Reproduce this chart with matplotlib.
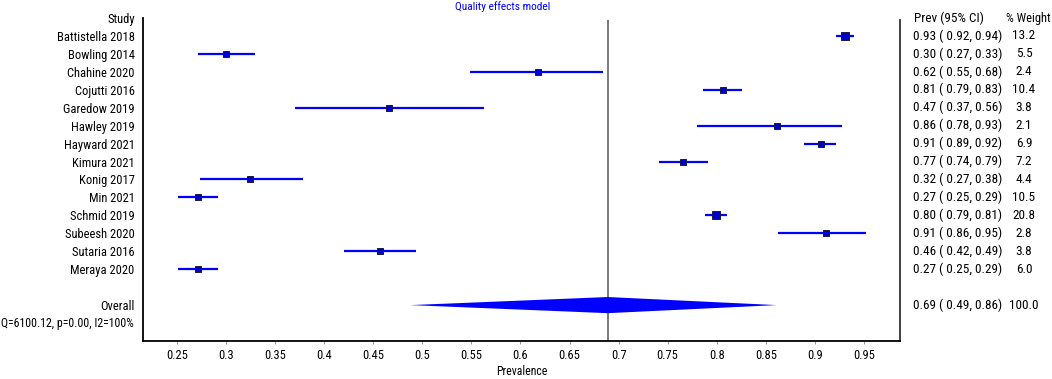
import matplotlib
matplotlib.use("Agg")
import matplotlib.pyplot as plt
import matplotlib.transforms as mtransforms

plt.rcParams['font.family'] = ['Roboto Condensed', 'Archivo Narrow', 'Liberation Sans', 'DejaVu Sans']

# study data (prevalence, 95% CI, weight)
studies = ["Battistella 2018", "Bowling 2014", "Chahine 2020", "Cojutti 2016",
           "Garedow 2019", "Hawley 2019", "Hayward 2021", "Kimura 2021",
           "Konig 2017", "Min 2021", "Schmid 2019", "Subeesh 2020",
           "Sutaria 2016", "Meraya 2020"]
prev = [0.931, 0.300, 0.618, 0.806, 0.466, 0.861, 0.906, 0.766,
        0.324, 0.271, 0.799, 0.911, 0.457, 0.271]
ci_lo = [0.922, 0.271, 0.549, 0.786, 0.370, 0.780, 0.889, 0.741,
         0.274, 0.2515, 0.788, 0.862, 0.420, 0.2515]
ci_hi = [0.940, 0.330, 0.684, 0.826, 0.563, 0.928, 0.922, 0.791,
         0.378, 0.292, 0.810, 0.952, 0.494, 0.292]
weight = [13.2, 5.5, 2.4, 10.4, 3.8, 2.1, 6.9, 7.2, 4.4, 10.5, 20.8, 2.8, 3.8, 6.0]

overall_prev = 0.689
overall_lo = 0.488
overall_hi = 0.861
overall_weight = 100.0
het_text = "Q=6100.12, p=0.00, I2=100%"

xticks = [0.25, 0.3, 0.35, 0.4, 0.45, 0.5, 0.55, 0.6, 0.65, 0.7, 0.75, 0.8, 0.85, 0.9, 0.95]

FS_LAB = 9      # study labels
FS_TAB = 9.5    # right-hand table

fig = plt.figure(figsize=(10.52, 3.79), dpi=100)
ax = fig.add_axes([0.1359, 0.1003, 0.7196, 0.8522])

rows = list(range(len(studies)))
overall_row = len(studies) + 1
het_row = overall_row + 1

for i in rows:
    ax.plot([ci_lo[i], ci_hi[i]], [i, i], color="#0000ff", lw=1.6, solid_capstyle="butt", zorder=2)
    ms = (5.3 + 0.14 * weight[i]) / 1.39
    ax.plot(prev[i], i, marker="s", ms=ms, mfc="#0000cc", mec="#1a1a3a", mew=0.7,
            linestyle="none", zorder=3)

# overall diamond
h = 0.45
ax.fill([overall_lo, overall_prev, overall_hi, overall_prev],
        [overall_row, overall_row - h, overall_row, overall_row + h],
        color="#0000ff", lw=0, zorder=2)

ax.vlines(overall_prev, -0.9, 17, color="#555555", lw=1.1, zorder=1)

ax.set_xlim(0.2154, 0.9867)
ax.set_ylim(17, -1)
ax.set_xticks(xticks)
ax.set_xticklabels([f"{t:g}" for t in xticks], fontsize=9)
ax.tick_params(axis="x", length=2, width=0.6, color="#888888", pad=4)
ax.set_xlabel("Prevalence", fontsize=8.5, labelpad=2)

ax.set_yticks([-1] + rows + [overall_row])
ax.set_yticklabels(["Study"] + studies + ["Overall"], fontsize=FS_LAB)
ax.tick_params(axis="y", length=0, pad=6)

ax.spines["top"].set_visible(False)
ax.spines["left"].set_linewidth(1.3)
ax.spines["bottom"].set_linewidth(1.3)
ax.spines["right"].set_linewidth(1.3)
ax.spines["right"].set_color("#333333")
ax.spines["right"].set_bounds(17, -0.9)

# heterogeneity text, left column
trans = mtransforms.blended_transform_factory(fig.transFigure, ax.transData)
ax.text(1 / 1052, het_row, het_text, transform=trans, ha="left", va="center",
        fontsize=8.6, clip_on=False)

# right columns
ax.text(914 / 1052, -1, "Prev (95% CI)", transform=trans, ha="left", va="center",
        fontsize=FS_TAB, clip_on=False)
ax.text(1006 / 1052, -1, "% Weight", transform=trans, ha="left", va="center",
        fontsize=9, clip_on=False)
for i in rows:
    ax.text(913 / 1052, i, f"{prev[i]:.2f} ( {ci_lo[i]:.2f}, {ci_hi[i]:.2f})",
            transform=trans, ha="left", va="center", fontsize=FS_TAB, clip_on=False)
    ax.text(1024 / 1052, i, f"{weight[i]:.1f}", transform=trans, ha="center",
            va="center", fontsize=FS_TAB, clip_on=False)
ax.text(913 / 1052, overall_row, f"{overall_prev:.2f} ( {overall_lo:.2f}, {overall_hi:.2f})",
        transform=trans, ha="left", va="center", fontsize=FS_TAB, clip_on=False)
ax.text(1024 / 1052, overall_row, f"{overall_weight:.1f}", transform=trans, ha="center",
        va="center", fontsize=FS_TAB, clip_on=False)

fig.text(503 / 1052, 1 - 7 / 379, "Quality effects model", color="#0000ff",
         ha="center", va="center", fontsize=8.2)

fig.savefig("out.png", dpi=100)
plt.close(fig)
